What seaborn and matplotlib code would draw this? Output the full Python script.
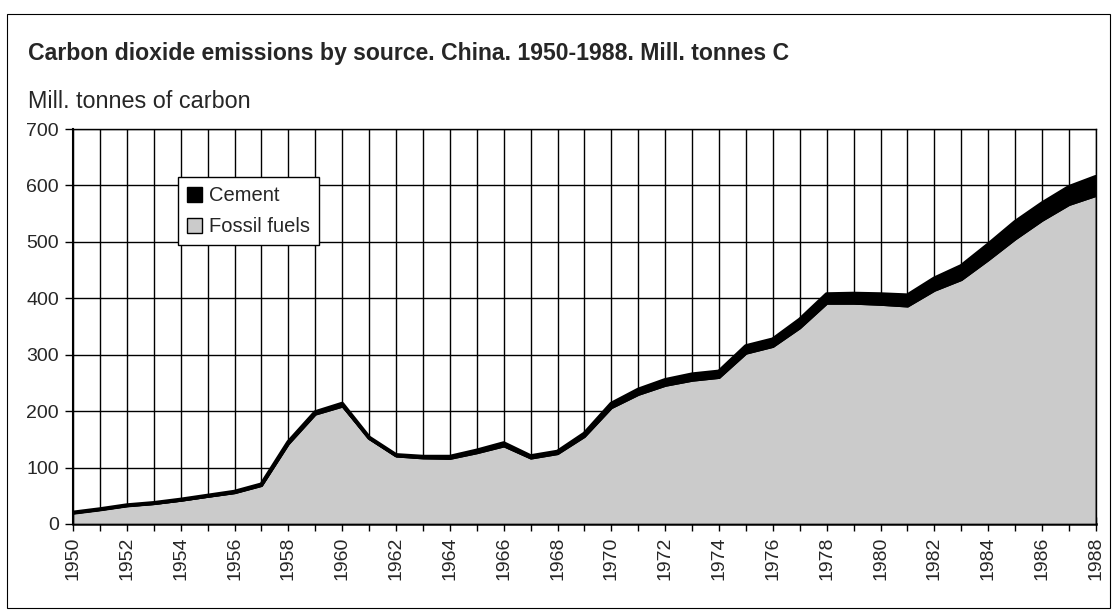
import matplotlib
matplotlib.use("Agg")
import matplotlib.pyplot as plt
import matplotlib.patches as mpatches
import numpy as np
import pandas as pd
import seaborn as sns

# ====== DATA ======
YEARS = list(range(1950, 1989))
TOTAL = [20, 26, 33, 37, 43, 50, 57, 70, 145, 198,
         213, 153, 122, 119, 119, 130, 143, 120, 128, 160,
         213, 238, 255, 265, 270, 315, 327, 362, 407, 408,
         407, 405, 435, 457, 495, 535, 568, 597, 615]
CEMENT = [0.5, 0.6, 0.8, 1.0, 1.2, 1.3, 1.8, 2.0, 3.0, 3.5,
          4.5, 2.0, 1.8, 2.2, 3.0, 4.0, 5.0, 3.5, 3.5, 5.0,
          7.0, 8.5, 9.5, 10.5, 10.5, 12.5, 12.5, 14.5, 16.0, 17.0,
          18.0, 19.0, 21.0, 24.0, 27.0, 30.0, 30.0, 31.0, 33.0]
FOSSIL = [t - c for t, c in zip(TOTAL, CEMENT)]
SERIES = ["Cement", "Fossil fuels"]
TITLE = "Carbon dioxide emissions by source. China. 1950-1988. Mill. tonnes C"
YLABEL = "Mill. tonnes of carbon"
# ===========================================

sns.set_style("white")
plt.rcParams["font.family"] = ["Liberation Sans", "DejaVu Sans"]

df = pd.DataFrame({"year": YEARS, "fossil": FOSSIL, "cement": CEMENT, "total": TOTAL})

fig = plt.figure(figsize=(11.13, 6.10), dpi=100)
ax = fig.add_axes([0.0656, 0.141, 0.919, 0.6475])

grey = "#cbcbcb"
ax.stackplot(df["year"], df["fossil"], df["cement"],
             colors=[grey, "black"], edgecolor="black", linewidth=1.2, zorder=3)
sns.lineplot(data=df, x="year", y="total", color="black", linewidth=3,
             ax=ax, zorder=4)
sns.lineplot(data=df, x="year", y="fossil", color="black", linewidth=1,
             ax=ax, zorder=4)

ax.set_xlim(1950, 1988)
ax.set_ylim(0, 700)
ax.set_xticks(YEARS[::2])
ax.set_xticks(YEARS, minor=True)
ax.set_xticklabels([str(y) for y in YEARS[::2]], rotation=90, fontsize=14)
ax.set_yticks(range(0, 701, 100))
ax.set_yticklabels([str(v) for v in range(0, 701, 100)], fontsize=14)
ax.grid(True, which="both", axis="x", color="black", linewidth=1, zorder=1)
ax.grid(True, which="major", axis="y", color="black", linewidth=1, zorder=1)
ax.set_axisbelow(True)
ax.tick_params(axis="x", which="both", direction="inout", length=10, width=1,
               color="black", pad=4, bottom=True)
ax.tick_params(axis="y", direction="out", length=6, width=1, color="black",
               pad=4, left=True)
for s in ax.spines.values():
    s.set_color("black")
    s.set_linewidth(1)
ax.spines["bottom"].set_linewidth(1.8)
ax.spines["left"].set_linewidth(1.5)
ax.set_xlabel("")
ax.set_ylabel("")

handles = [mpatches.Patch(facecolor="black", edgecolor="black"),
           mpatches.Patch(facecolor=grey, edgecolor="black")]
leg = ax.legend(handles, SERIES, loc="upper left", bbox_to_anchor=(0.1026, 0.878),
                borderaxespad=0, frameon=True, fancybox=False, framealpha=1,
                edgecolor="black", fontsize=14.5, handlelength=0.75,
                handleheight=0.75, handletextpad=0.35, borderpad=0.45,
                labelspacing=0.6)
leg.get_frame().set_linewidth(1)
leg.set_zorder(10)

fig.text(0.025, 0.913, TITLE, fontsize=16.6, fontweight="bold", va="center", ha="left")
fig.text(0.025, 0.833, YLABEL, fontsize=16.8, va="center", ha="left")

frame = mpatches.Rectangle((0.006, 0.003), 0.991, 0.974, transform=fig.transFigure,
                           fill=False, edgecolor="black", linewidth=0.8)
fig.patches.append(frame)

fig.savefig("out.png", dpi=100)
